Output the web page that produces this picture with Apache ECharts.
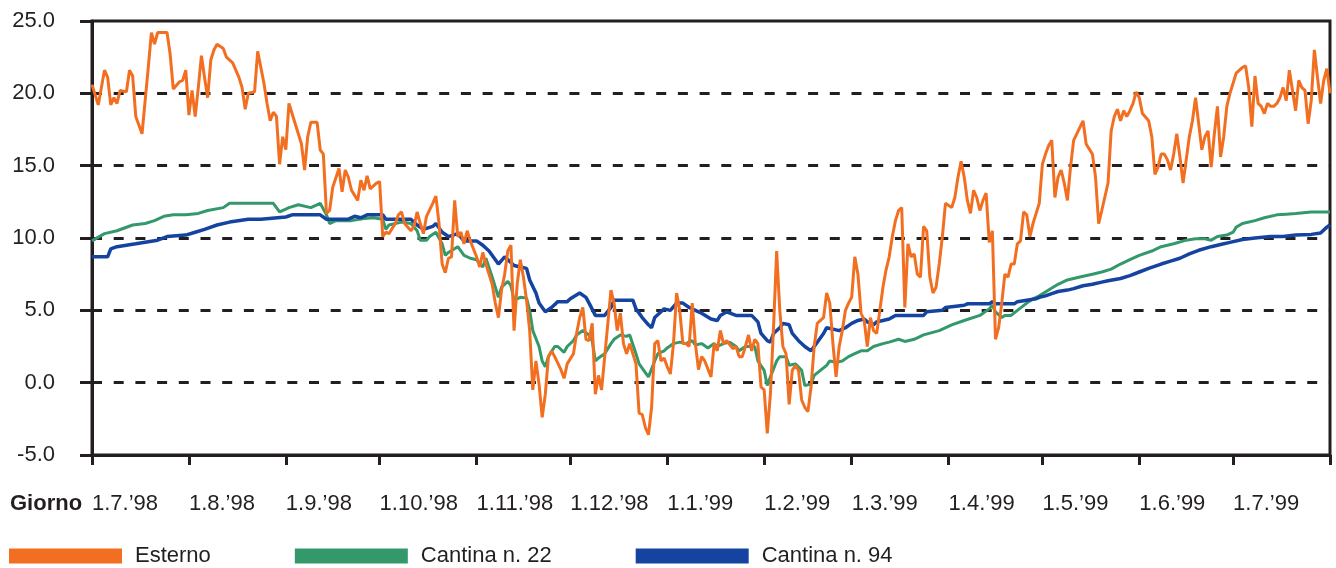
<!DOCTYPE html>
<html>
<head>
<meta charset="utf-8">
<script src="https://cdn.jsdelivr.net/npm/echarts@6/dist/echarts.min.js"></script>
<style>
html,body{margin:0;padding:0;background:#ffffff;}
#chart{width:1336px;height:568px;}
</style>
</head>
<body>
<div id="chart"></div>
<script>
// Day offsets (from 1.7.'98) of the month starts shown on the x axis
const monthStarts = [0, 31, 62, 92, 123, 153, 184, 215, 243, 274, 304, 335, 365];
const tickLabels = ["1.7.\u201998", "1.8.\u201998", "1.9.\u201998", "1.10.\u201998", "1.11.\u201998", "1.12.\u201998",
  "1.1.\u201999", "1.2.\u201999", "1.3.\u201999", "1.4.\u201999", "1.5.\u201999", "1.6.\u201999", "1.7.\u201999"];
const lastDay = 396; // 1.8.'99
const seriesNames = ["Esterno", "Cantina n. 22", "Cantina n. 94"];

// [giorno (days since 1.7.'98), temperatura °C]
const esterno = [[0,20.6],[2,19.2],[4,21.6],[5,21.1],[6,19.2],[7,19.7],[8,19.3],[9,20.2],[11,20.1],[12,21.6],[13,21.2],[14,18.4],[16,17.2],[17,19.5],[18,21.8],[19,24.2],[20,23.4],[21,24.2],[24,24.2],[25,22.7],[26,20.3],[28,20.8],[29,20.9],[30,21.6],[31,18.5],[32,20.2],[33,18.4],[34,20.4],[35,22.6],[36,21.1],[37,19.7],[38,22.3],[39,23.0],[40,23.4],[42,23.1],[43,22.5],[45,22.1],[47,21.1],[48,20.4],[49,18.9],[50,20.0],[52,20.1],[53,22.9],[55,20.7],[56,19.3],[57,18.1],[58,18.7],[59,18.4],[60,15.1],[61,17.0],[62,16.1],[63,19.3],[65,17.9],[67,16.5],[68,14.7],[69,17.0],[70,18.0],[72,18.0],[73,16.1],[74,15.8],[75,11.7],[76,11.9],[77,13.5],[79,14.8],[80,13.2],[81,14.7],[82,14.2],[83,13.3],[85,12.6],[86,14.0],[87,13.3],[88,14.3],[89,13.4],[91,13.8],[92,13.9],[93,10.1],[94,10.4],[95,10.3],[97,11.0],[98,11.6],[99,11.8],[100,11.0],[102,10.5],[103,10.8],[104,11.8],[105,11.0],[106,10.3],[107,11.5],[109,12.4],[110,12.9],[111,11.0],[112,8.2],[113,7.6],[114,8.6],[115,8.7],[116,12.6],[117,10.1],[118,10.4],[119,9.6],[120,10.5],[121,9.8],[123,8.7],[124,8.0],[125,9.0],[126,8.2],[128,6.8],[129,5.5],[130,4.5],[131,6.4],[132,7.5],[133,9.1],[134,9.5],[135,3.6],[136,6.8],[137,8.5],[138,7.3],[139,5.7],[140,3.6],[141,-0.5],[142,1.5],[143,-0.1],[144,-2.4],[145,-0.8],[146,1.8],[147,2.2],[148,1.8],[150,0.9],[151,0.3],[152,1.3],[154,2.0],[155,3.4],[156,4.5],[157,5.2],[158,3.0],[159,2.9],[160,4.1],[161,-0.8],[162,0.5],[163,-0.5],[164,1.8],[166,6.4],[167,5.5],[168,3.6],[169,4.8],[170,2.7],[171,2.0],[172,2.7],[174,1.3],[175,-2.1],[176,-2.2],[177,-3.1],[178,-3.6],[179,-1.7],[180,2.7],[181,2.9],[182,1.5],[183,1.7],[184,1.1],[185,0.6],[186,2.7],[187,6.2],[188,5.0],[189,2.7],[190,2.7],[191,2.5],[192,5.5],[193,2.7],[194,0.9],[195,1.8],[196,1.5],[198,0.4],[199,2.7],[200,2.2],[201,3.6],[202,2.7],[203,2.9],[205,2.35],[206,2.5],[207,1.8],[208,1.8],[209,2.5],[210,3.3],[211,2.2],[212,3.0],[213,2.7],[214,-0.3],[215,-0.5],[216,-3.5],[217,-0.8],[218,3.8],[219,9.1],[220,5.0],[221,2.5],[222,2.0],[223,-1.5],[224,0.85],[225,1.2],[226,0.85],[227,-1.2],[228,-1.7],[229,-2.0],[230,-0.3],[231,2.5],[232,4.1],[233,4.3],[234,4.5],[235,6.2],[236,5.5],[237,2.7],[238,0.4],[239,2.5],[240,3.6],[241,5.0],[242,5.5],[243,5.9],[244,8.7],[245,7.5],[246,4.8],[247,4.3],[248,2.5],[249,4.5],[250,3.6],[251,3.4],[252,5.0],[253,6.6],[254,7.8],[255,8.7],[256,10.1],[257,11.2],[258,11.9],[259,12.1],[260,5.2],[261,9.6],[262,8.7],[263,8.9],[264,7.5],[265,7.3],[266,10.8],[267,10.5],[268,7.3],[269,6.2],[270,6.6],[271,8.2],[272,10.1],[273,12.4],[275,12.1],[276,12.8],[277,14.2],[278,15.3],[279,14.2],[280,12.6],[281,11.7],[282,13.3],[283,12.8],[284,11.9],[285,12.6],[286,13.1],[287,9.7],[288,10.5],[289,3.0],[290,3.8],[291,5.5],[292,7.5],[293,7.3],[294,8.2],[295,8.2],[296,9.6],[297,9.8],[298,11.8],[299,11.6],[300,10.1],[301,11.0],[302,11.7],[303,12.4],[304,15.1],[305,15.8],[306,16.4],[307,16.75],[308,12.8],[309,14.2],[310,14.7],[311,13.8],[312,12.6],[313,14.9],[314,16.75],[315,17.2],[317,18.1],[318,16.5],[320,15.8],[321,14.2],[322,11.0],[323,11.9],[325,13.8],[326,17.4],[327,18.4],[328,18.9],[329,18.1],[330,18.8],[331,18.4],[332,18.8],[333,19.3],[334,20.1],[335,19.7],[336,18.6],[338,18.1],[339,17.0],[340,14.4],[341,14.9],[342,15.8],[343,15.8],[344,15.4],[345,14.7],[346,15.8],[347,17.2],[348,15.6],[349,13.8],[350,15.4],[351,17.0],[352,18.1],[353,19.7],[354,17.9],[355,16.1],[356,17.0],[357,17.4],[358,14.9],[359,17.2],[360,19.1],[361,15.6],[362,17.0],[363,19.1],[364,20.0],[365,20.7],[366,21.4],[368,21.8],[369,21.9],[370,20.4],[371,17.7],[372,21.2],[373,19.3],[374,19.1],[375,18.6],[376,19.3],[377,19.1],[378,19.1],[379,19.3],[380,19.7],[381,20.4],[382,19.5],[383,21.6],[384,20.2],[385,18.8],[386,20.9],[387,20.4],[388,20.2],[389,17.9],[390,19.5],[391,23.0],[392,21.1],[393,19.3],[394,20.9],[395,21.7],[396,20.0]];

const cantina22 = [[0,9.8],[4,10.3],[8,10.5],[13,10.9],[17,11.0],[20,11.2],[23,11.5],[26,11.6],[30,11.6],[34,11.7],[37,11.9],[42,12.1],[44,12.4],[51,12.4],[58,12.4],[60,11.8],[62,12.0],[63,12.1],[66,12.3],[70,12.1],[73,12.4],[75,11.6],[76,11.0],[78,11.2],[83,11.2],[87,11.35],[90,11.4],[93,11.3],[94,10.6],[95,10.9],[99,11.1],[102,11.0],[104,10.5],[105,9.85],[107,9.85],[108,10.1],[110,10.4],[112,9.6],[113,8.8],[114,9.0],[117,9.4],[119,8.8],[121,8.6],[123,8.5],[125,8.0],[126,8.6],[128,7.3],[130,5.9],[131,6.6],[133,7.0],[134,6.7],[135,5.7],[137,5.9],[139,5.85],[140,5.0],[141,3.6],[143,2.5],[144,1.5],[145,1.1],[146,1.8],[148,2.5],[149,2.5],[151,2.1],[152,2.5],[154,2.9],[155,3.3],[157,3.6],[159,3.3],[160,2.9],[161,1.5],[162,1.7],[164,2.0],[166,2.7],[167,3.0],[169,3.3],[171,3.2],[172,3.3],[174,2.0],[175,1.3],[177,0.7],[178,0.4],[180,1.5],[181,2.0],[183,2.2],[184,2.4],[186,2.7],[188,2.8],[190,2.7],[192,2.9],[193,2.6],[195,2.7],[197,2.4],[199,2.7],[200,2.5],[202,2.7],[204,2.8],[206,2.5],[207,2.2],[209,2.5],[212,2.5],[213,1.5],[215,0.85],[216,-0.2],[217,0.4],[219,1.5],[220,1.8],[222,1.8],[223,1.2],[225,1.3],[227,0.85],[228,-0.2],[230,-0.1],[231,0.5],[233,0.85],[235,1.2],[236,1.5],[238,1.4],[240,1.5],[242,1.8],[244,2.0],[246,2.2],[248,2.2],[250,2.5],[253,2.7],[255,2.8],[258,3.0],[260,2.85],[263,3.0],[266,3.3],[271,3.6],[275,4.0],[279,4.3],[284,4.65],[287,5.1],[288,5.35],[289,4.9],[291,4.5],[292,4.65],[294,4.65],[296,5.0],[299,5.5],[301,5.8],[303,6.0],[306,6.4],[309,6.8],[312,7.1],[316,7.3],[320,7.5],[323,7.65],[326,7.85],[329,8.2],[332,8.5],[335,8.8],[339,9.1],[342,9.4],[346,9.6],[350,9.85],[353,9.95],[356,9.95],[358,9.85],[360,10.1],[363,10.2],[365,10.4],[366,10.75],[368,11.0],[372,11.2],[375,11.4],[379,11.6],[382,11.65],[385,11.7],[390,11.8],[396,11.8]];

const cantina94 = [[0,8.7],[5,8.7],[6,9.25],[8,9.4],[14,9.6],[21,9.85],[24,10.1],[30,10.2],[33,10.4],[36,10.6],[40,10.9],[44,11.1],[50,11.3],[54,11.3],[62,11.45],[64,11.6],[73,11.6],[75,11.3],[82,11.3],[84,11.5],[86,11.4],[88,11.6],[93,11.6],[94,11.3],[102,11.3],[104,10.9],[106,10.6],[109,10.8],[110,11.0],[112,10.4],[114,10.1],[117,10.3],[119,9.8],[123,9.8],[125,9.5],[127,9.1],[130,8.2],[132,8.7],[135,8.1],[137,8.0],[139,7.9],[140,7.1],[142,6.2],[143,5.5],[145,4.9],[147,5.2],[149,5.6],[152,5.6],[153,5.8],[156,6.2],[158,5.9],[159,5.5],[161,4.65],[164,4.65],[166,5.2],[167,5.7],[173,5.7],[174,5.1],[176,4.5],[178,4.0],[179,3.8],[180,4.5],[182,4.9],[183,5.1],[185,5.0],[187,5.5],[189,5.5],[191,5.2],[193,5.0],[195,4.8],[198,4.4],[200,4.3],[201,4.65],[203,4.9],[206,4.65],[211,4.65],[213,4.2],[214,3.4],[216,2.9],[217,2.8],[218,3.4],[220,3.8],[221,4.1],[223,4.0],[224,3.4],[226,2.9],[228,2.5],[230,2.2],[231,2.5],[232,2.8],[234,3.4],[235,3.8],[237,3.7],[239,3.6],[241,3.8],[243,4.1],[245,4.3],[247,4.4],[248,4.2],[250,4.0],[251,4.2],[253,4.3],[255,4.4],[257,4.65],[266,4.65],[267,4.9],[272,5.0],[273,5.2],[279,5.35],[280,5.45],[287,5.45],[288,5.6],[289,5.45],[295,5.45],[296,5.6],[302,5.8],[303,5.9],[305,6.0],[307,6.15],[309,6.3],[312,6.4],[314,6.5],[317,6.7],[320,6.8],[323,6.95],[325,7.05],[329,7.2],[332,7.4],[335,7.65],[338,7.9],[342,8.2],[345,8.4],[348,8.6],[351,8.9],[354,9.15],[358,9.4],[361,9.55],[364,9.7],[368,9.9],[372,10.0],[377,10.1],[381,10.1],[385,10.2],[390,10.25],[393,10.35],[395,10.75],[396,10.9]];

const INK = '#231F20';
const FONT = '"Liberation Sans", Arial, Helvetica, sans-serif';
const colors = ['#F26F21', '#33996A', '#1544A0'];

const chart = echarts.init(document.getElementById('chart'), null, {renderer: 'canvas'});
chart.setOption({
  animation: false,
  backgroundColor: '#ffffff',
  textStyle: {fontFamily: FONT, color: INK},
  grid: {left: 92, right: 6, top: 21, bottom: 113, show: true, borderColor: INK, borderWidth: 3, backgroundColor: 'transparent'},
  legend: {
    data: seriesNames,
    left: 4, top: 540,
    icon: 'rect', itemWidth: 113, itemHeight: 15, itemGap: 84,
    textStyle: {fontSize: 22, color: INK, fontFamily: FONT, padding: [0, 0, 0, 8]}
  },
  xAxis: {
    type: 'value', min: 0, max: lastDay,
    axisLine: {show: true, onZero: false, lineStyle: {color: INK, width: 3}},
    axisTick: {show: true, customValues: monthStarts.concat([lastDay]), length: 10, lineStyle: {color: INK, width: 3}},
    axisLabel: {
      customValues: monthStarts, align: 'left', margin: 38, fontSize: 22, color: INK, fontFamily: FONT,
      formatter: v => tickLabels[monthStarts.indexOf(v)]
    },
    splitLine: {show: false}
  },
  yAxis: {
    type: 'value', min: -5, max: 25, interval: 5,
    axisLine: {show: true, onZero: false, lineStyle: {color: INK, width: 3}},
    axisTick: {show: true, length: 12, lineStyle: {color: INK, width: 3}},
    axisLabel: {margin: 37, fontSize: 22, color: INK, fontFamily: FONT, formatter: v => v.toFixed(1)},
    splitLine: {show: true, showMinLine: false, showMaxLine: false, lineStyle: {color: INK, width: 3, type: [10, 11.7]}}
  },
  graphic: [{
    type: 'text', x: 10, y: 504,
    style: {text: 'Giorno', font: 'bold 22px ' + FONT, fill: INK, align: 'left', verticalAlign: 'middle'}
  }],
  series: [
    {name: seriesNames[0], type: 'line', data: esterno, color: colors[0], showSymbol: false, symbol: 'none', z: 4, lineStyle: {width: 3, color: colors[0]}},
    {name: seriesNames[1], type: 'line', data: cantina22, color: colors[1], showSymbol: false, symbol: 'none', z: 2, lineStyle: {width: 3, color: colors[1]}},
    {name: seriesNames[2], type: 'line', data: cantina94, color: colors[2], showSymbol: false, symbol: 'none', z: 3, lineStyle: {width: 3.5, color: colors[2]}}
  ]
});
</script>
</body>
</html>
